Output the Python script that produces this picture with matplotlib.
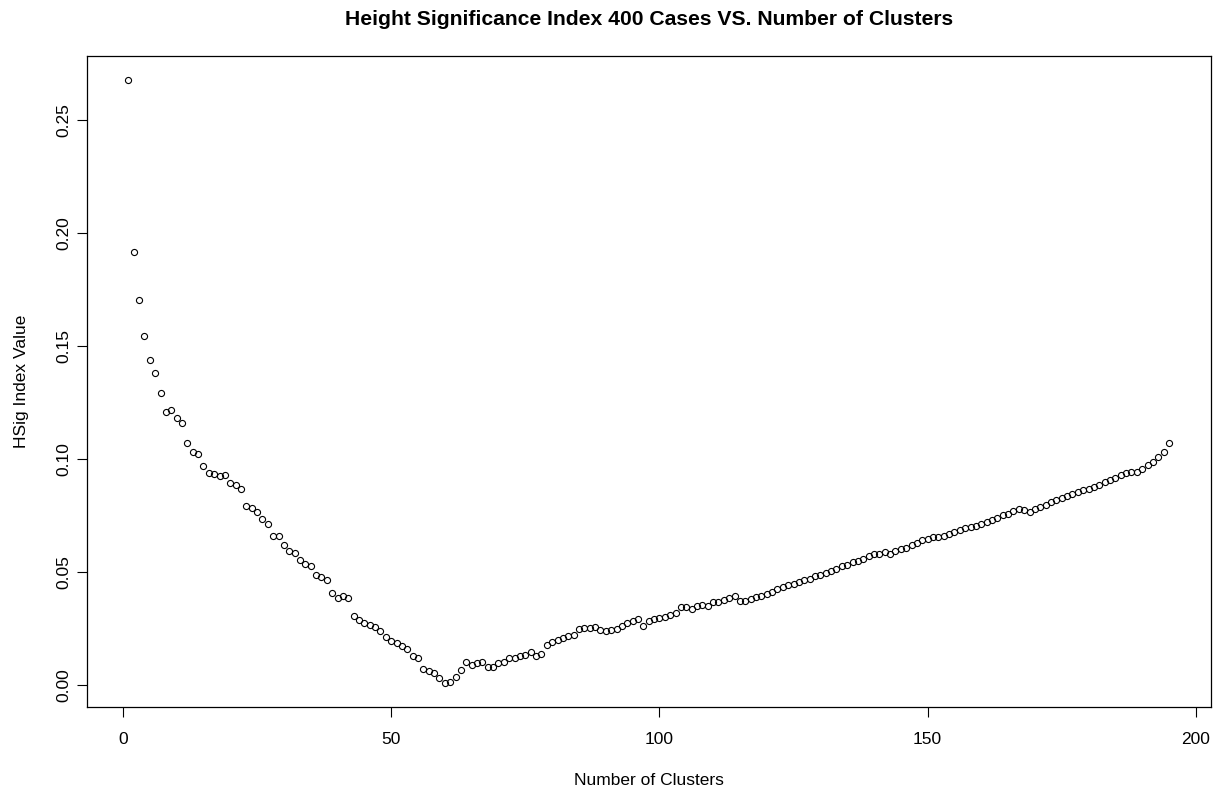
import numpy as np
import matplotlib
matplotlib.use("Agg")
import matplotlib.pyplot as plt

plt.rcParams['font.family'] = ['Liberation Sans', 'DejaVu Sans']

# HSig index value for 1..195 clusters
clusters = np.arange(1, 196)
hsig = [
    0.2675, 0.1913, 0.1701, 0.1545, 0.1436, 0.1380, 0.1290, 0.1207, 0.1216, 0.1179,
    0.1160, 0.1068, 0.1032, 0.1021, 0.0970, 0.0938, 0.0932, 0.0925, 0.0930, 0.0892,
    0.0882, 0.0865, 0.0791, 0.0781, 0.0766, 0.0735, 0.0711, 0.0660, 0.0658, 0.0617,
    0.0592, 0.0584, 0.0552, 0.0535, 0.0524, 0.0485, 0.0478, 0.0463, 0.0408, 0.0384,
    0.0395, 0.0384, 0.0306, 0.0288, 0.0273, 0.0265, 0.0254, 0.0237, 0.0214, 0.0192,
    0.0185, 0.0173, 0.0158, 0.0129, 0.0118, 0.0071, 0.0063, 0.0051, 0.0029, 0.0010,
    0.0013, 0.0037, 0.0067, 0.0100, 0.0089, 0.0096, 0.0100, 0.0078, 0.0077, 0.0099,
    0.0103, 0.0117, 0.0118, 0.0126, 0.0131, 0.0146, 0.0129, 0.0137, 0.0177, 0.0190,
    0.0198, 0.0207, 0.0215, 0.0222, 0.0246, 0.0250, 0.0251, 0.0256, 0.0244, 0.0237,
    0.0245, 0.0247, 0.0262, 0.0272, 0.0281, 0.0293, 0.0262, 0.0281, 0.0290, 0.0296,
    0.0302, 0.0308, 0.0318, 0.0343, 0.0344, 0.0334, 0.0348, 0.0355, 0.0351, 0.0365,
    0.0368, 0.0374, 0.0383, 0.0393, 0.0371, 0.0370, 0.0379, 0.0387, 0.0395, 0.0402,
    0.0410, 0.0423, 0.0433, 0.0441, 0.0447, 0.0455, 0.0462, 0.0469, 0.0481, 0.0486,
    0.0494, 0.0503, 0.0513, 0.0526, 0.0530, 0.0543, 0.0547, 0.0557, 0.0569, 0.0577,
    0.0580, 0.0586, 0.0577, 0.0592, 0.0599, 0.0606, 0.0618, 0.0629, 0.0639, 0.0645,
    0.0652, 0.0655, 0.0657, 0.0666, 0.0675, 0.0685, 0.0692, 0.0700, 0.0703, 0.0713,
    0.0722, 0.0731, 0.0740, 0.0750, 0.0758, 0.0768, 0.0779, 0.0774, 0.0765, 0.0777,
    0.0788, 0.0797, 0.0808, 0.0819, 0.0828, 0.0837, 0.0846, 0.0855, 0.0862, 0.0868,
    0.0877, 0.0886, 0.0897, 0.0905, 0.0916, 0.0928, 0.0939, 0.0942, 0.0942, 0.0953,
    0.0973, 0.0988, 0.1006, 0.1032, 0.1068,
]

x_ticks = [0, 50, 100, 150, 200]
y_ticks = [0.00, 0.05, 0.10, 0.15, 0.20, 0.25]

fig = plt.figure(figsize=(12.25, 7.9), dpi=100)
ax = fig.add_axes([0.0708, 0.1054, 0.9175, 0.8237])

ax.plot(clusters, hsig, linestyle='none', marker='o', markersize=4.4,
        markerfacecolor='none', markeredgecolor='black', markeredgewidth=0.8)

# R style 4% padding on both axes
xr = clusters.max() - clusters.min()
ax.set_xlim(clusters.min() - 0.04 * xr, clusters.max() + 0.04 * xr)
yr = max(hsig) - min(hsig)
ax.set_ylim(min(hsig) - 0.04 * yr, max(hsig) + 0.04 * yr)

ax.set_xticks(x_ticks)
ax.set_xticklabels([str(t) for t in x_ticks])
ax.set_yticks(y_ticks)
ax.set_yticklabels([f"{t:.2f}" for t in y_ticks], rotation=90, va='center')

ax.tick_params(direction='out', length=7, width=0.8, labelsize=12.5, colors='black')
ax.tick_params(axis='x', pad=11)
ax.tick_params(axis='y', pad=4)
for s in ax.spines.values():
    s.set_linewidth(0.9)

ax.set_xlabel('Number of Clusters', fontsize=12.5, labelpad=19)
ax.set_ylabel('HSig Index Value', fontsize=12.5, labelpad=20)
ax.set_title('Height Significance Index 400 Cases VS. Number of Clusters',
             fontsize=15.2, fontweight='bold', pad=22)

fig.savefig('out.png', dpi=100)
